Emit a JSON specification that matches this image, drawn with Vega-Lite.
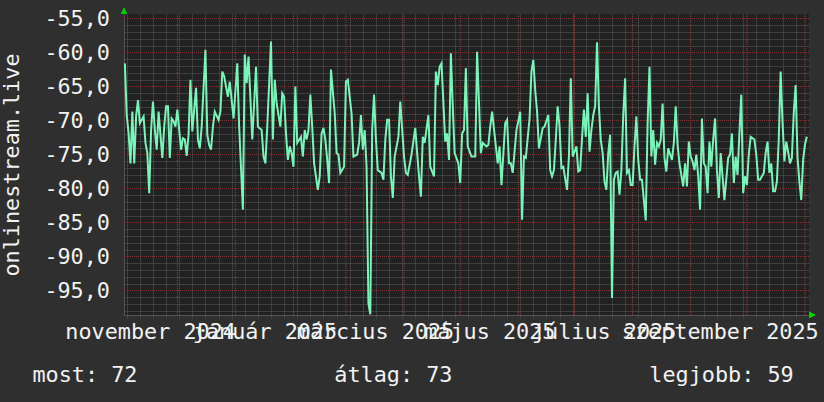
{
  "$schema": "https://vega.github.io/schema/vega-lite/v6.json",
  "width": 685,
  "height": 301,
  "autosize": {"type": "none"},
  "padding": {"left": 124, "top": 14, "right": 15, "bottom": 87},
  "background": "#2f2f2f",
  "config": {
    "view": {"fill": "#212121", "stroke": null},
    "font": "DejaVu Sans Mono"
  },
  "datasets": {
    "monthStarts": [
      {"m":"2024-12-01T00:00"},{"m":"2025-01-01T00:00"},{"m":"2025-02-01T00:00"},{"m":"2025-03-01T00:00"},{"m":"2025-04-01T00:00"},{"m":"2025-05-01T00:00"},
      {"m":"2025-06-01T00:00"},{"m":"2025-07-01T00:00"},{"m":"2025-08-01T00:00"},{"m":"2025-09-01T00:00"},{"m":"2025-10-01T00:00"},{"m":"2025-11-01T00:00"}
    ],
    "majorLevels": [
      {"g":-95},{"g":-90},{"g":-85},{"g":-80},{"g":-75},{"g":-70},{"g":-65},{"g":-60},{"g":-55}
    ]
  },
  "data": {"values": [
    {"date":"2024-11-03T00:00","v":-61.6},{"date":"2024-11-04T00:00","v":-69.2},{"date":"2024-11-05T00:00","v":-71.9},{"date":"2024-11-06T00:00","v":-76.3},{"date":"2024-11-07T00:00","v":-68.7},{"date":"2024-11-08T00:00","v":-76.3},{"date":"2024-11-09T00:00","v":-69.4},{"date":"2024-11-10T00:00","v":-67.0},{"date":"2024-11-11T00:00","v":-70.4},{"date":"2024-11-13T00:00","v":-69.4},{"date":"2024-11-14T00:00","v":-73.3},{"date":"2024-11-15T00:00","v":-74.8},{"date":"2024-11-16T00:00","v":-80.7},{"date":"2024-11-17T00:00","v":-71.4},{"date":"2024-11-18T00:00","v":-67.2},{"date":"2024-11-19T00:00","v":-71.4},{"date":"2024-11-20T00:00","v":-74.3},{"date":"2024-11-21T00:00","v":-68.7},{"date":"2024-11-23T00:00","v":-75.5},{"date":"2024-11-24T00:00","v":-70.9},{"date":"2024-11-25T00:00","v":-67.9},{"date":"2024-11-26T00:00","v":-67.9},{"date":"2024-11-27T00:00","v":-75.5},{"date":"2024-11-28T00:00","v":-69.7},{"date":"2024-11-29T00:00","v":-70.1},{"date":"2024-11-30T00:00","v":-70.9},
    {"date":"2024-12-01T00:00","v":-68.4},{"date":"2024-12-03T00:00","v":-74.3},{"date":"2024-12-04T00:00","v":-72.6},{"date":"2024-12-05T00:00","v":-72.8},{"date":"2024-12-06T00:00","v":-75.2},{"date":"2024-12-07T00:00","v":-72.1},{"date":"2024-12-08T00:00","v":-64.0},{"date":"2024-12-09T00:00","v":-71.6},{"date":"2024-12-11T00:00","v":-65.2},{"date":"2024-12-12T00:00","v":-72.8},{"date":"2024-12-13T00:00","v":-74.1},{"date":"2024-12-14T00:00","v":-70.9},{"date":"2024-12-16T00:00","v":-59.6},{"date":"2024-12-17T00:00","v":-72.1},{"date":"2024-12-18T00:00","v":-73.6},{"date":"2024-12-19T00:00","v":-74.3},{"date":"2024-12-20T00:00","v":-70.9},{"date":"2024-12-21T00:00","v":-68.7},{"date":"2024-12-23T00:00","v":-69.9},{"date":"2024-12-24T00:00","v":-68.7},{"date":"2024-12-25T00:00","v":-62.8},{"date":"2024-12-26T00:00","v":-63.5},{"date":"2024-12-28T00:00","v":-66.5},{"date":"2024-12-29T00:00","v":-64.3},{"date":"2024-12-30T00:00","v":-67.0},{"date":"2024-12-31T00:00","v":-69.7},
    {"date":"2025-01-02T00:00","v":-61.6},{"date":"2025-01-03T00:00","v":-70.9},{"date":"2025-01-05T00:00","v":-83.1},{"date":"2025-01-06T00:00","v":-60.3},{"date":"2025-01-07T00:00","v":-64.5},{"date":"2025-01-08T00:00","v":-60.6},{"date":"2025-01-10T00:00","v":-72.8},{"date":"2025-01-12T00:00","v":-62.1},{"date":"2025-01-13T00:00","v":-70.9},{"date":"2025-01-15T00:00","v":-71.4},{"date":"2025-01-16T00:00","v":-75.3},{"date":"2025-01-17T00:00","v":-76.3},{"date":"2025-01-18T00:00","v":-70.9},{"date":"2025-01-20T00:00","v":-58.4},{"date":"2025-01-21T00:00","v":-72.8},{"date":"2025-01-22T00:00","v":-64.0},{"date":"2025-01-23T00:00","v":-67.5},{"date":"2025-01-25T00:00","v":-70.9},{"date":"2025-01-26T00:00","v":-66.0},{"date":"2025-01-27T00:00","v":-66.5},{"date":"2025-01-28T00:00","v":-71.9},{"date":"2025-01-29T00:00","v":-75.8},{"date":"2025-01-30T00:00","v":-73.8},{"date":"2025-01-31T00:00","v":-74.8},
    {"date":"2025-02-01T00:00","v":-76.8},{"date":"2025-02-02T00:00","v":-65.0},{"date":"2025-02-03T00:00","v":-73.3},{"date":"2025-02-05T00:00","v":-72.4},{"date":"2025-02-06T00:00","v":-75.3},{"date":"2025-02-07T00:00","v":-71.4},{"date":"2025-02-08T00:00","v":-72.8},{"date":"2025-02-09T00:00","v":-71.4},{"date":"2025-02-10T00:00","v":-66.2},{"date":"2025-02-11T00:00","v":-70.9},{"date":"2025-02-12T00:00","v":-76.3},{"date":"2025-02-14T00:00","v":-80.2},{"date":"2025-02-15T00:00","v":-78.2},{"date":"2025-02-16T00:00","v":-71.9},{"date":"2025-02-17T00:00","v":-71.1},{"date":"2025-02-18T00:00","v":-72.8},{"date":"2025-02-19T00:00","v":-75.8},{"date":"2025-02-20T00:00","v":-79.2},{"date":"2025-02-21T00:00","v":-62.5},{"date":"2025-02-23T00:00","v":-68.9},{"date":"2025-02-24T00:00","v":-74.8},{"date":"2025-02-25T00:00","v":-75.0},{"date":"2025-02-26T00:00","v":-77.7},{"date":"2025-02-28T00:00","v":-76.8},
    {"date":"2025-03-01T00:00","v":-64.3},{"date":"2025-03-02T00:00","v":-64.0},{"date":"2025-03-04T00:00","v":-69.0},{"date":"2025-03-05T00:00","v":-75.3},{"date":"2025-03-07T00:00","v":-75.0},{"date":"2025-03-08T00:00","v":-73.3},{"date":"2025-03-09T00:00","v":-69.2},{"date":"2025-03-10T00:00","v":-74.3},{"date":"2025-03-11T00:00","v":-71.4},{"date":"2025-03-12T00:00","v":-76.8},{"date":"2025-03-13T00:00","v":-96.9},{"date":"2025-03-14T00:00","v":-98.5},{"date":"2025-03-15T00:00","v":-71.4},{"date":"2025-03-16T00:00","v":-66.2},{"date":"2025-03-17T00:00","v":-72.8},{"date":"2025-03-18T00:00","v":-77.3},{"date":"2025-03-20T00:00","v":-77.7},{"date":"2025-03-21T00:00","v":-78.7},{"date":"2025-03-22T00:00","v":-72.8},{"date":"2025-03-23T00:00","v":-69.9},{"date":"2025-03-24T00:00","v":-69.9},{"date":"2025-03-25T00:00","v":-78.2},{"date":"2025-03-26T00:00","v":-81.4},{"date":"2025-03-27T00:00","v":-75.3},{"date":"2025-03-29T00:00","v":-72.4},{"date":"2025-03-30T00:00","v":-67.2},
    {"date":"2025-04-01T00:00","v":-75.3},{"date":"2025-04-02T00:00","v":-77.7},{"date":"2025-04-03T00:00","v":-78.0},{"date":"2025-04-05T00:00","v":-75.0},{"date":"2025-04-07T00:00","v":-71.1},{"date":"2025-04-08T00:00","v":-74.8},{"date":"2025-04-09T00:00","v":-78.2},{"date":"2025-04-10T00:00","v":-81.2},{"date":"2025-04-11T00:00","v":-72.4},{"date":"2025-04-12T00:00","v":-73.3},{"date":"2025-04-14T00:00","v":-69.2},{"date":"2025-04-15T00:00","v":-76.8},{"date":"2025-04-17T00:00","v":-78.2},{"date":"2025-04-18T00:00","v":-62.8},{"date":"2025-04-19T00:00","v":-64.8},{"date":"2025-04-20T00:00","v":-62.1},{"date":"2025-04-21T00:00","v":-61.6},{"date":"2025-04-23T00:00","v":-73.1},{"date":"2025-04-24T00:00","v":-71.9},{"date":"2025-04-25T00:00","v":-75.8},{"date":"2025-04-26T00:00","v":-60.1},{"date":"2025-04-27T00:00","v":-67.9},{"date":"2025-04-28T00:00","v":-74.8},{"date":"2025-04-30T00:00","v":-76.3},
    {"date":"2025-05-01T00:00","v":-79.2},{"date":"2025-05-02T00:00","v":-71.9},{"date":"2025-05-03T00:00","v":-71.4},{"date":"2025-05-04T00:00","v":-62.3},{"date":"2025-05-05T00:00","v":-73.8},{"date":"2025-05-07T00:00","v":-75.3},{"date":"2025-05-08T00:00","v":-75.3},{"date":"2025-05-09T00:00","v":-75.3},{"date":"2025-05-10T00:00","v":-59.9},{"date":"2025-05-12T00:00","v":-74.8},{"date":"2025-05-13T00:00","v":-73.3},{"date":"2025-05-15T00:00","v":-73.8},{"date":"2025-05-16T00:00","v":-73.6},{"date":"2025-05-17T00:00","v":-70.9},{"date":"2025-05-18T00:00","v":-68.7},{"date":"2025-05-21T00:00","v":-76.3},{"date":"2025-05-22T00:00","v":-73.8},{"date":"2025-05-23T00:00","v":-79.5},{"date":"2025-05-25T00:00","v":-70.4},{"date":"2025-05-26T00:00","v":-69.9},{"date":"2025-05-27T00:00","v":-76.3},{"date":"2025-05-28T00:00","v":-76.3},{"date":"2025-05-29T00:00","v":-77.7},{"date":"2025-05-31T00:00","v":-71.4},
    {"date":"2025-06-02T00:00","v":-68.7},{"date":"2025-06-03T00:00","v":-84.6},{"date":"2025-06-04T00:00","v":-75.3},{"date":"2025-06-05T00:00","v":-75.5},{"date":"2025-06-07T00:00","v":-69.7},{"date":"2025-06-08T00:00","v":-62.8},{"date":"2025-06-09T00:00","v":-61.1},{"date":"2025-06-10T00:00","v":-65.5},{"date":"2025-06-11T00:00","v":-68.7},{"date":"2025-06-12T00:00","v":-74.1},{"date":"2025-06-14T00:00","v":-71.1},{"date":"2025-06-15T00:00","v":-70.9},{"date":"2025-06-17T00:00","v":-69.2},{"date":"2025-06-18T00:00","v":-77.3},{"date":"2025-06-19T00:00","v":-78.2},{"date":"2025-06-20T00:00","v":-77.3},{"date":"2025-06-21T00:00","v":-72.8},{"date":"2025-06-22T00:00","v":-67.9},{"date":"2025-06-23T00:00","v":-70.9},{"date":"2025-06-24T00:00","v":-77.0},{"date":"2025-06-25T00:00","v":-76.8},{"date":"2025-06-27T00:00","v":-80.2},{"date":"2025-06-28T00:00","v":-75.3},{"date":"2025-06-29T00:00","v":-63.8},{"date":"2025-06-30T00:00","v":-75.3},
    {"date":"2025-07-02T00:00","v":-73.8},{"date":"2025-07-03T00:00","v":-77.5},{"date":"2025-07-04T00:00","v":-77.3},{"date":"2025-07-05T00:00","v":-72.6},{"date":"2025-07-06T00:00","v":-68.4},{"date":"2025-07-07T00:00","v":-72.4},{"date":"2025-07-08T00:00","v":-66.0},{"date":"2025-07-09T00:00","v":-74.6},{"date":"2025-07-10T00:00","v":-71.4},{"date":"2025-07-11T00:00","v":-69.2},{"date":"2025-07-12T00:00","v":-67.9},{"date":"2025-07-13T00:00","v":-58.5},{"date":"2025-07-14T00:00","v":-67.9},{"date":"2025-07-15T00:00","v":-72.8},{"date":"2025-07-16T00:00","v":-74.8},{"date":"2025-07-17T00:00","v":-79.0},{"date":"2025-07-18T00:00","v":-80.2},{"date":"2025-07-19T00:00","v":-74.8},{"date":"2025-07-20T00:00","v":-72.1},{"date":"2025-07-21T00:00","v":-96.1},{"date":"2025-07-22T00:00","v":-78.7},{"date":"2025-07-23T00:00","v":-77.7},{"date":"2025-07-24T00:00","v":-77.5},{"date":"2025-07-25T00:00","v":-80.9},{"date":"2025-07-26T00:00","v":-77.3},{"date":"2025-07-27T00:00","v":-69.2},{"date":"2025-07-28T00:00","v":-63.8},{"date":"2025-07-29T00:00","v":-77.7},{"date":"2025-07-30T00:00","v":-77.3},{"date":"2025-07-31T00:00","v":-79.5},
    {"date":"2025-08-01T00:00","v":-79.5},{"date":"2025-08-02T00:00","v":-73.8},{"date":"2025-08-03T00:00","v":-69.4},{"date":"2025-08-04T00:00","v":-75.8},{"date":"2025-08-05T00:00","v":-78.7},{"date":"2025-08-06T00:00","v":-78.7},{"date":"2025-08-07T00:00","v":-81.7},{"date":"2025-08-08T00:00","v":-84.7},{"date":"2025-08-09T00:00","v":-70.4},{"date":"2025-08-10T00:00","v":-62.1},{"date":"2025-08-11T00:00","v":-75.3},{"date":"2025-08-12T00:00","v":-71.4},{"date":"2025-08-13T00:00","v":-76.5},{"date":"2025-08-14T00:00","v":-73.3},{"date":"2025-08-15T00:00","v":-73.8},{"date":"2025-08-16T00:00","v":-72.8},{"date":"2025-08-17T00:00","v":-67.5},{"date":"2025-08-18T00:00","v":-75.5},{"date":"2025-08-19T00:00","v":-77.5},{"date":"2025-08-20T00:00","v":-74.1},{"date":"2025-08-22T00:00","v":-75.8},{"date":"2025-08-23T00:00","v":-73.3},{"date":"2025-08-24T00:00","v":-67.9},{"date":"2025-08-25T00:00","v":-73.6},{"date":"2025-08-26T00:00","v":-76.3},{"date":"2025-08-28T00:00","v":-79.7},{"date":"2025-08-29T00:00","v":-76.3},{"date":"2025-08-30T00:00","v":-79.7},{"date":"2025-08-31T00:00","v":-73.1},
    {"date":"2025-09-01T00:00","v":-75.3},{"date":"2025-09-02T00:00","v":-76.0},{"date":"2025-09-03T00:00","v":-77.3},{"date":"2025-09-04T00:00","v":-75.0},{"date":"2025-09-05T00:00","v":-78.2},{"date":"2025-09-06T00:00","v":-83.1},{"date":"2025-09-07T00:00","v":-69.7},{"date":"2025-09-08T00:00","v":-76.3},{"date":"2025-09-09T00:00","v":-76.8},{"date":"2025-09-10T00:00","v":-80.7},{"date":"2025-09-11T00:00","v":-73.1},{"date":"2025-09-12T00:00","v":-76.8},{"date":"2025-09-13T00:00","v":-72.8},{"date":"2025-09-14T00:00","v":-69.7},{"date":"2025-09-15T00:00","v":-77.3},{"date":"2025-09-16T00:00","v":-81.4},{"date":"2025-09-17T00:00","v":-74.8},{"date":"2025-09-18T00:00","v":-78.2},{"date":"2025-09-19T00:00","v":-81.7},{"date":"2025-09-21T00:00","v":-75.5},{"date":"2025-09-22T00:00","v":-75.0},{"date":"2025-09-23T00:00","v":-71.9},{"date":"2025-09-24T00:00","v":-79.2},{"date":"2025-09-25T00:00","v":-75.3},{"date":"2025-09-26T00:00","v":-78.0},{"date":"2025-09-27T00:00","v":-71.9},{"date":"2025-09-28T00:00","v":-66.2},{"date":"2025-09-29T00:00","v":-80.7},{"date":"2025-09-30T00:00","v":-78.2},
    {"date":"2025-10-01T00:00","v":-79.5},{"date":"2025-10-02T00:00","v":-75.0},{"date":"2025-10-03T00:00","v":-72.4},{"date":"2025-10-05T00:00","v":-72.8},{"date":"2025-10-06T00:00","v":-75.0},{"date":"2025-10-07T00:00","v":-78.7},{"date":"2025-10-08T00:00","v":-78.7},{"date":"2025-10-09T00:00","v":-78.2},{"date":"2025-10-10T00:00","v":-77.7},{"date":"2025-10-11T00:00","v":-74.8},{"date":"2025-10-12T00:00","v":-73.1},{"date":"2025-10-13T00:00","v":-77.7},{"date":"2025-10-14T00:00","v":-76.3},{"date":"2025-10-15T00:00","v":-80.4},{"date":"2025-10-16T00:00","v":-80.4},{"date":"2025-10-17T00:00","v":-79.0},{"date":"2025-10-18T00:00","v":-72.8},{"date":"2025-10-19T00:00","v":-62.8},{"date":"2025-10-20T00:00","v":-70.1},{"date":"2025-10-21T00:00","v":-76.0},{"date":"2025-10-22T00:00","v":-73.1},{"date":"2025-10-23T00:00","v":-74.6},{"date":"2025-10-24T00:00","v":-76.3},{"date":"2025-10-25T00:00","v":-75.5},{"date":"2025-10-26T00:00","v":-68.9},{"date":"2025-10-27T00:00","v":-64.8},{"date":"2025-10-28T00:00","v":-75.3},{"date":"2025-10-29T00:00","v":-79.0},{"date":"2025-10-30T00:00","v":-81.7},{"date":"2025-10-31T00:00","v":-75.8},{"date":"2025-11-01T00:00","v":-73.5},{"date":"2025-11-02T00:00","v":-72.4}
  ]},
  "resolve": {"axis": {"x": "independent", "y": "independent"}},
  "layer": [
    {
      "mark": {"type": "line", "strokeOpacity": 0},
      "encoding": {
        "x": {"field": "date", "type": "temporal",
          "scale": {"domain": [{"year": 2024, "month": 11, "date": 2, "hours": 13}, {"year": 2025, "month": 11, "date": 3, "hours": 3, "minutes": 20}]},
          "axis": {"orient": "bottom", "title": null, "labels": false, "domain": false, "tickCount": 1000,
            "ticks": true, "tickSize": 3, "tickColor": "#5c5c5c", "tickDash": [1, 1],
            "grid": true, "gridColor": "#5c5c5c", "gridDash": [1, 1], "gridWidth": 1, "gridOpacity": 1,
            "minExtent": 0, "maxExtent": 0,
            "values": [
              {"year":2024,"month":11,"date":4},{"year":2024,"month":11,"date":11},{"year":2024,"month":11,"date":18},{"year":2024,"month":11,"date":25},
              {"year":2024,"month":12,"date":2},{"year":2024,"month":12,"date":9},{"year":2024,"month":12,"date":16},{"year":2024,"month":12,"date":23},{"year":2024,"month":12,"date":30},
              {"year":2025,"month":1,"date":6},{"year":2025,"month":1,"date":13},{"year":2025,"month":1,"date":20},{"year":2025,"month":1,"date":27},
              {"year":2025,"month":2,"date":3},{"year":2025,"month":2,"date":10},{"year":2025,"month":2,"date":17},{"year":2025,"month":2,"date":24},
              {"year":2025,"month":3,"date":3},{"year":2025,"month":3,"date":10},{"year":2025,"month":3,"date":17},{"year":2025,"month":3,"date":24},{"year":2025,"month":3,"date":31},
              {"year":2025,"month":4,"date":7},{"year":2025,"month":4,"date":14},{"year":2025,"month":4,"date":21},{"year":2025,"month":4,"date":28},
              {"year":2025,"month":5,"date":5},{"year":2025,"month":5,"date":12},{"year":2025,"month":5,"date":19},{"year":2025,"month":5,"date":26},
              {"year":2025,"month":6,"date":2},{"year":2025,"month":6,"date":9},{"year":2025,"month":6,"date":16},{"year":2025,"month":6,"date":23},{"year":2025,"month":6,"date":30},
              {"year":2025,"month":7,"date":7},{"year":2025,"month":7,"date":14},{"year":2025,"month":7,"date":21},{"year":2025,"month":7,"date":28},
              {"year":2025,"month":8,"date":4},{"year":2025,"month":8,"date":11},{"year":2025,"month":8,"date":18},{"year":2025,"month":8,"date":25},
              {"year":2025,"month":9,"date":8},{"year":2025,"month":9,"date":15},{"year":2025,"month":9,"date":22},{"year":2025,"month":9,"date":29},
              {"year":2025,"month":10,"date":6},{"year":2025,"month":10,"date":13},{"year":2025,"month":10,"date":20},{"year":2025,"month":10,"date":27}
            ]}},
        "y": {"field": "v", "type": "quantitative",
          "scale": {"domain": [-98.6029, -54.3382], "nice": false, "zero": false},
          "axis": {"orient": "left", "title": null, "labels": false, "domain": false, "ticks": false, "tickCount": 1000,
            "grid": true, "gridColor": "#5c5c5c", "gridDash": [1, 1], "gridWidth": 1, "gridOpacity": 1,
            "minExtent": 0, "maxExtent": 0,
            "values": [-98,-97,-96,-94,-93,-92,-91,-89,-88,-87,-86,-84,-83,-82,-81,-79,-78,-77,-76,-74,-73,-72,-71,-69,-68,-67,-66,-64,-63,-62,-61,-59,-58,-57,-56]}}
      }
    },
    {
      "data": {"name": "monthStarts"},
      "mark": {"type": "rule", "color": "#a03c3c", "strokeWidth": 1, "strokeDash": [1, 1]},
      "encoding": {
        "x": {"field": "m", "type": "temporal", "axis": null}
      }
    },
    {
      "data": {"name": "majorLevels"},
      "mark": {"type": "rule", "color": "#843434", "strokeWidth": 1, "strokeDash": [1, 1]},
      "encoding": {
        "y": {"field": "g", "type": "quantitative", "axis": null}
      }
    },
    {
      "mark": {"type": "line", "strokeOpacity": 0},
      "encoding": {
        "x": {"field": "date", "type": "temporal",
          "axis": {"orient": "bottom", "title": null, "labels": false, "grid": false, "ticks": false,
            "domain": true, "domainColor": "#555555", "domainWidth": 1, "minExtent": 0, "maxExtent": 0}},
        "y": {"field": "v", "type": "quantitative",
          "axis": {"orient": "left", "values": [-95, -90, -85, -80, -75, -70, -65, -60, -55], "tickCount": 1000,
            "grid": false, "domain": true, "domainColor": "#555555", "domainWidth": 1,
            "ticks": false, "labelPadding": 14.5, "labelFlush": false, "labelBound": false, "labelOverlap": false,
            "labelExpr": "'-' + replace(format(-datum.value, '.1f'), '.', ',')",
            "labelFont": "DejaVu Sans Mono", "labelFontSize": 21.8, "labelColor": "#f2f2f2",
            "title": "onlinestream.live", "titleFont": "DejaVu Sans Mono", "titleFontSize": 21.8,
            "titleFontWeight": "normal", "titleColor": "#f2f2f2", "titlePadding": 20}}
      }
    },
    {
      "mark": {"type": "line", "color": "#78f5b9", "strokeWidth": 2, "interpolate": "linear"},
      "encoding": {
        "x": {"field": "date", "type": "temporal",
          "axis": {"orient": "bottom", "grid": false, "ticks": false, "domain": false, "tickCount": 1000,
            "labelOverlap": false, "labelFlush": false, "labelBound": false, "labelPadding": 6.8, "labelLimit": 1000,
            "labelFont": "DejaVu Sans Mono", "labelFontSize": 21.8, "labelColor": "#f2f2f2",
            "labelExpr": "['január','február','március','április','május','június','július','augusztus','szeptember','október','november','december'][month(datum.value)] + ' ' + year(datum.value)",
            "values": [
              {"year":2024,"month":11,"date":16,"hours":12},{"year":2025,"month":1,"date":16,"hours":12},{"year":2025,"month":3,"date":16,"hours":12},
              {"year":2025,"month":5,"date":16,"hours":12},{"year":2025,"month":7,"date":16,"hours":12},{"year":2025,"month":9,"date":16,"hours":12}
            ],
            "title": "most: 72\u00a0\u00a0\u00a0\u00a0\u00a0\u00a0\u00a0\u00a0\u00a0\u00a0\u00a0\u00a0\u00a0\u00a0\u00a0átlag: 73\u00a0\u00a0\u00a0\u00a0\u00a0\u00a0\u00a0\u00a0\u00a0\u00a0\u00a0\u00a0\u00a0\u00a0\u00a0legjobb: 59",
            "titleLimit": 1000,
            "titleFont": "DejaVu Sans Mono", "titleFontSize": 21.8, "titleFontWeight": "normal", "titleColor": "#f2f2f2",
            "titleAlign": "left", "titleBaseline": "alphabetic", "titleX": -92, "titleY": 66}},
        "y": {"field": "v", "type": "quantitative", "axis": null}
      }
    },
    {
      "mark": {"type": "point", "shape": "triangle-up", "filled": true, "color": "#00d000", "size": 30, "opacity": 1, "yOffset": -3},
      "encoding": {
        "x": {"datum": {"year": 2024, "month": 11, "date": 2, "hours": 13}, "type": "temporal", "axis": null},
        "y": {"datum": -54.3382, "type": "quantitative", "axis": null}
      }
    },
    {
      "mark": {"type": "point", "shape": "triangle-right", "filled": true, "color": "#00d000", "size": 30, "opacity": 1, "xOffset": 3},
      "encoding": {
        "x": {"datum": {"year": 2025, "month": 11, "date": 3, "hours": 3, "minutes": 20}, "type": "temporal", "axis": null},
        "y": {"datum": -98.6029, "type": "quantitative", "axis": null}
      }
    }
  ]
}
